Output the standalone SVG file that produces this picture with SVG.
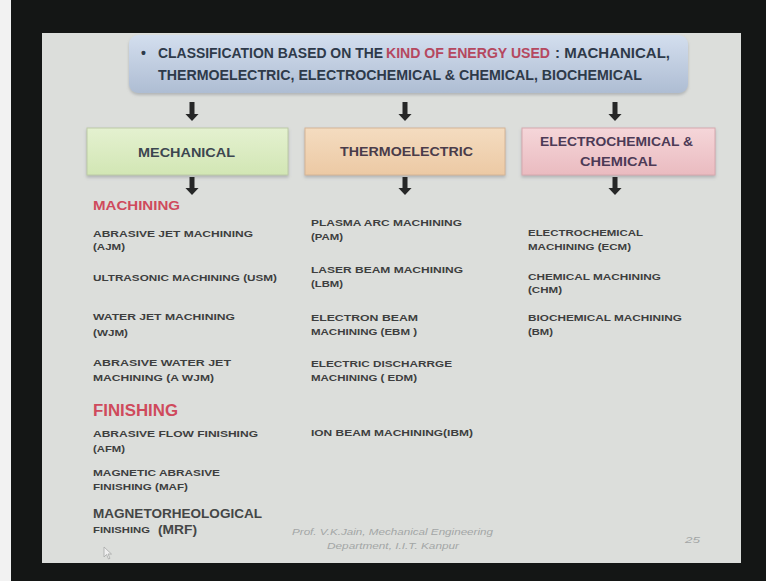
<svg xmlns="http://www.w3.org/2000/svg" width="766" height="581" viewBox="0 0 766 581">
  <defs>
    <linearGradient id="gTop" x1="0" y1="0" x2="0" y2="1">
      <stop offset="0" stop-color="#d3deee"/>
      <stop offset="1" stop-color="#aebdd3"/>
    </linearGradient>
    <linearGradient id="gMech" x1="0" y1="0" x2="0" y2="1">
      <stop offset="0" stop-color="#e4f1d0"/>
      <stop offset="1" stop-color="#d2e6b4"/>
    </linearGradient>
    <linearGradient id="gThermo" x1="0" y1="0" x2="0" y2="1">
      <stop offset="0" stop-color="#f4dcc0"/>
      <stop offset="1" stop-color="#ecc9a4"/>
    </linearGradient>
    <linearGradient id="gElec" x1="0" y1="0" x2="0" y2="1">
      <stop offset="0" stop-color="#f5d6d9"/>
      <stop offset="1" stop-color="#eabbc0"/>
    </linearGradient>
    <filter id="shadow" x="-5%" y="-20%" width="110%" height="150%">
      <feDropShadow dx="0" dy="2" stdDeviation="1.5" flood-color="#7a8088" flood-opacity="0.45"/>
    </filter>
    <marker id="ah" markerUnits="userSpaceOnUse" markerWidth="8" markerHeight="14" refX="0.5" refY="7" orient="auto">
      <path d="M0,0 L7.5,7 L0,14 z" fill="#262727"/>
    </marker>
    <style>
      .title { font-family: "Liberation Sans Narrow", "Liberation Sans", Arial, sans-serif; font-weight: bold; font-size: 14px; fill: #2e3a4a; }
      .title .hl { fill: #b5485f; }
      .cat { font-family: "Liberation Sans", Arial, sans-serif; font-weight: bold; font-size: 13px; text-anchor: start; }
      .item { font-family: "Liberation Sans", Arial, sans-serif; font-weight: bold; font-size: 8.5px; fill: #3e3f3f; }
      .big { font-size: 12px; fill: #444646; }
      .head { font-family: "Liberation Sans", Arial, sans-serif; font-weight: bold; fill: #cf4a5c; }
      .foot { font-family: "Liberation Sans", Arial, sans-serif; font-style: italic; font-size: 9px; fill: #a3a6a6; }
      .conn line { stroke: #262727; stroke-width: 5; marker-end: url(#ah); }
    </style>
  </defs>

  <!-- frame and slide surface -->
  <rect x="0" y="0" width="766" height="581" fill="#141615"/>
  <rect x="0" y="0" width="11" height="581" fill="#f2f2f2"/>
  <rect x="42" y="33" width="699" height="530" fill="#dcdedb"/>

  <!-- heading box -->
  <g id="node-classification">
    <rect x="129" y="35" width="559" height="58" rx="9" fill="url(#gTop)" filter="url(#shadow)"/>
    <text class="title" x="141" y="58">•</text>
    <text class="title" x="158" y="58" textLength="225" lengthAdjust="spacingAndGlyphs">CLASSIFICATION BASED ON THE</text>
    <text class="title" x="386" y="58" textLength="164" lengthAdjust="spacingAndGlyphs"><tspan class="hl">KIND OF ENERGY USED</tspan></text>
    <text class="title" x="555" y="58" textLength="115" lengthAdjust="spacingAndGlyphs">: MACHANICAL,</text>
    <text class="title" x="158" y="80" textLength="484" lengthAdjust="spacingAndGlyphs">THERMOELECTRIC, ELECTROCHEMICAL &amp; CHEMICAL, BIOCHEMICAL</text>
  </g>

  <!-- category boxes -->
  <g id="node-mechanical">
    <rect x="87" y="128" width="201" height="47" fill="url(#gMech)" stroke="#bccaa6" stroke-width="1" filter="url(#shadow)"/>
    <text class="cat" x="138" y="157" fill="#3c4650" textLength="97" lengthAdjust="spacingAndGlyphs">MECHANICAL</text>
  </g>
  <g id="node-thermoelectric">
    <rect x="305" y="128" width="200" height="47" fill="url(#gThermo)" stroke="#d4b496" stroke-width="1" filter="url(#shadow)"/>
    <text class="cat" x="340" y="156" fill="#4a3c4a" textLength="133" lengthAdjust="spacingAndGlyphs">THERMOELECTRIC</text>
  </g>
  <g id="node-electrochemical">
    <rect x="522" y="128" width="193" height="47" fill="url(#gElec)" stroke="#d6a8ae" stroke-width="1" filter="url(#shadow)"/>
    <text class="cat" x="540" y="146" fill="#4c3a56" textLength="153" lengthAdjust="spacingAndGlyphs">ELECTROCHEMICAL &amp;</text>
    <text class="cat" x="580" y="166" fill="#4c3a56" textLength="77" lengthAdjust="spacingAndGlyphs">CHEMICAL</text>
  </g>

  <!-- connectors -->
  <g id="connectors" class="conn">
    <line x1="192" y1="102" x2="192" y2="114"/>
    <line x1="405" y1="102" x2="405" y2="114"/>
    <line x1="615" y1="102" x2="615" y2="114"/>
    <line x1="192" y1="177" x2="192" y2="188"/>
    <line x1="405" y1="177" x2="405" y2="188"/>
    <line x1="615" y1="177" x2="615" y2="188"/>
  </g>

  <!-- mechanical processes -->
  <g id="node-mechanical-list">
    <text class="head" x="93" y="210" font-size="13" textLength="87" lengthAdjust="spacingAndGlyphs">MACHINING</text>
    <text class="item" x="93" y="237" textLength="160" lengthAdjust="spacingAndGlyphs">ABRASIVE JET MACHINING</text>
    <text class="item" x="93" y="250" textLength="32" lengthAdjust="spacingAndGlyphs">(AJM)</text>
    <text class="item" x="93" y="281" textLength="184" lengthAdjust="spacingAndGlyphs">ULTRASONIC MACHINING (USM)</text>
    <text class="item" x="93" y="320" textLength="142" lengthAdjust="spacingAndGlyphs">WATER JET MACHINING</text>
    <text class="item" x="93" y="336" textLength="35" lengthAdjust="spacingAndGlyphs">(WJM)</text>
    <text class="item" x="93" y="366" textLength="138" lengthAdjust="spacingAndGlyphs">ABRASIVE WATER  JET</text>
    <text class="item" x="93" y="381" textLength="121" lengthAdjust="spacingAndGlyphs">MACHINING  (A WJM)</text>
    <text class="head" x="93" y="416" font-size="16" textLength="85" lengthAdjust="spacingAndGlyphs">FINISHING</text>
    <text class="item" x="93" y="437" textLength="165" lengthAdjust="spacingAndGlyphs">ABRASIVE FLOW FINISHING</text>
    <text class="item" x="93" y="452" textLength="32" lengthAdjust="spacingAndGlyphs">(AFM)</text>
    <text class="item" x="93" y="476" textLength="127" lengthAdjust="spacingAndGlyphs">MAGNETIC ABRASIVE</text>
    <text class="item" x="93" y="490" textLength="95" lengthAdjust="spacingAndGlyphs">FINISHING (MAF)</text>
    <text class="item big" x="93" y="518" textLength="169" lengthAdjust="spacingAndGlyphs">MAGNETORHEOLOGICAL</text>
    <text class="item" x="93" y="533" textLength="57" lengthAdjust="spacingAndGlyphs">FINISHING</text>
    <text class="item big" x="158" y="534" textLength="39" lengthAdjust="spacingAndGlyphs">(MRF)</text>
  </g>

  <!-- thermoelectric processes -->
  <g id="node-thermoelectric-list">
    <text class="item" x="311" y="226" textLength="151" lengthAdjust="spacingAndGlyphs">PLASMA ARC MACHINING</text>
    <text class="item" x="311" y="240" textLength="32" lengthAdjust="spacingAndGlyphs">(PAM)</text>
    <text class="item" x="311" y="273" textLength="152" lengthAdjust="spacingAndGlyphs">LASER BEAM MACHINING</text>
    <text class="item" x="311" y="287" textLength="32" lengthAdjust="spacingAndGlyphs">(LBM)</text>
    <text class="item" x="311" y="321" textLength="107" lengthAdjust="spacingAndGlyphs">ELECTRON  BEAM</text>
    <text class="item" x="311" y="335" textLength="106" lengthAdjust="spacingAndGlyphs">MACHINING (EBM )</text>
    <text class="item" x="311" y="367" textLength="141" lengthAdjust="spacingAndGlyphs">ELECTRIC DISCHARRGE</text>
    <text class="item" x="311" y="381" textLength="106" lengthAdjust="spacingAndGlyphs">MACHINING ( EDM)</text>
    <text class="item" x="311" y="436" textLength="162" lengthAdjust="spacingAndGlyphs">ION BEAM MACHINING(IBM)</text>
  </g>

  <!-- electrochemical and chemical processes -->
  <g id="node-electrochemical-list">
    <text class="item" x="528" y="236" textLength="115" lengthAdjust="spacingAndGlyphs">ELECTROCHEMICAL</text>
    <text class="item" x="528" y="250" textLength="103" lengthAdjust="spacingAndGlyphs">MACHINING (ECM)</text>
    <text class="item" x="528" y="280" textLength="133" lengthAdjust="spacingAndGlyphs">CHEMICAL MACHINING</text>
    <text class="item" x="528" y="293" textLength="34" lengthAdjust="spacingAndGlyphs">(CHM)</text>
    <text class="item" x="528" y="321" textLength="154" lengthAdjust="spacingAndGlyphs">BIOCHEMICAL MACHINING</text>
    <text class="item" x="528" y="335" textLength="25" lengthAdjust="spacingAndGlyphs">(BM)</text>
  </g>

  <!-- footer -->
  <g id="footer">
    <text class="foot" x="292" y="535" textLength="201" lengthAdjust="spacingAndGlyphs">Prof. V.K.Jain, Mechanical Engineering</text>
    <text class="foot" x="327" y="549" textLength="132" lengthAdjust="spacingAndGlyphs">Department, I.I.T. Kanpur</text>
    <text class="foot" x="685" y="543" font-style="normal" textLength="15" lengthAdjust="spacingAndGlyphs">25</text>
  </g>

  <!-- mouse pointer -->
  <path d="M104,547 L104,557 L106.5,554.5 L108.5,559 L110,558.3 L108,554 L111.5,554 z" fill="#f4f4f4" stroke="#9a9c9c" stroke-width="0.8" opacity="0.8"/>
</svg>
